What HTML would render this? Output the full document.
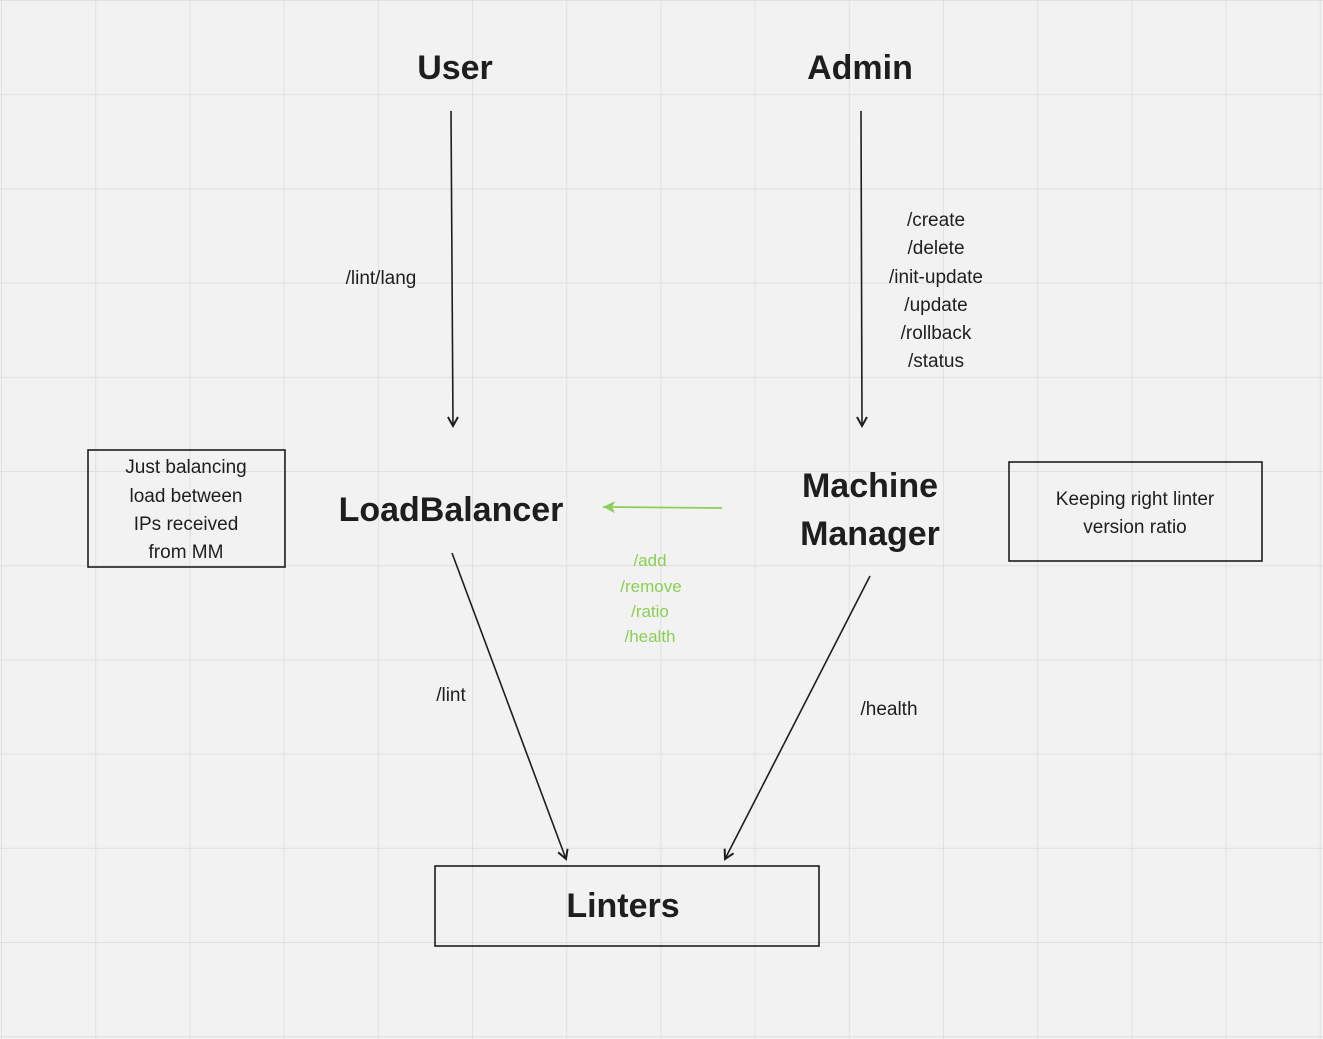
<!DOCTYPE html>
<html><head><meta charset="utf-8"><style>
html,body{margin:0;padding:0;background:#f2f2f2;}
svg{display:block;}
text{font-family:"Liberation Sans",sans-serif;}
</style></head><body>
<svg width="1323" height="1039" viewBox="0 0 1323 1039" xmlns="http://www.w3.org/2000/svg">
<defs>
<pattern id="g" x="1" y="0" width="94.2" height="94.2" patternUnits="userSpaceOnUse">
<path d="M0 0V94.2M0 0H94.2" stroke="#e0e0e0" stroke-width="2" fill="none"/>
</pattern>
<marker id="a" markerWidth="14" markerHeight="14" refX="11" refY="7" orient="auto" markerUnits="userSpaceOnUse"><path d="M2 2L11 7L2 12" fill="none" stroke="#1e1e1e" stroke-width="2"/></marker>
<marker id="ga" markerWidth="16" markerHeight="16" refX="14" refY="8" orient="auto" markerUnits="userSpaceOnUse"><path d="M2 2L14 8L2 14L5 8Z" fill="#8ccf55"/></marker>
</defs>
<rect width="1323" height="1039" fill="#f2f2f2"/>
<rect width="1323" height="1039" fill="url(#g)"/>
<g fill="#1e1e1e" font-weight="bold" text-anchor="middle" font-size="34">
<text x="455" y="79">User</text>
<text x="860" y="79">Admin</text>
<text x="451" y="521">LoadBalancer</text>
<text x="870" y="497">Machine</text>
<text x="870" y="545">Manager</text>
<text x="623" y="917">Linters</text>
</g>
<g stroke="#1e1e1e" stroke-width="1.6" fill="none">
<line x1="451" y1="111" x2="453" y2="426" marker-end="url(#a)"/>
<line x1="861" y1="111" x2="862" y2="426" marker-end="url(#a)"/>
<line x1="452" y1="553" x2="566" y2="859" marker-end="url(#a)"/>
<line x1="870" y1="576" x2="725" y2="859" marker-end="url(#a)"/>
<rect x="88" y="450" width="197" height="117"/>
<rect x="1009" y="462" width="253" height="99"/>
<rect x="435" y="866" width="384" height="80"/>
</g>
<line x1="722" y1="508" x2="603" y2="507" stroke="#8ccf55" stroke-width="1.8" marker-end="url(#ga)"/>
<g fill="#1e1e1e" font-size="19" text-anchor="middle">
<text x="381" y="284">/lint/lang</text>
<text x="936" y="226">/create</text>
<text x="936" y="254">/delete</text>
<text x="936" y="283">/init-update</text>
<text x="936" y="311">/update</text>
<text x="936" y="339">/rollback</text>
<text x="936" y="367">/status</text>
<text x="451" y="701">/lint</text>
<text x="889" y="715">/health</text>
<text x="186" y="473">Just balancing</text>
<text x="186" y="502">load between</text>
<text x="186" y="530">IPs received</text>
<text x="186" y="558">from MM</text>
<text x="1135" y="505">Keeping right linter</text>
<text x="1135" y="533">version ratio</text>
</g>
<g fill="#8ccf55" font-size="17" text-anchor="middle">
<text x="650" y="566">/add</text>
<text x="651" y="592">/remove</text>
<text x="650" y="617">/ratio</text>
<text x="650" y="642">/health</text>
</g>
</svg>
</body></html>
